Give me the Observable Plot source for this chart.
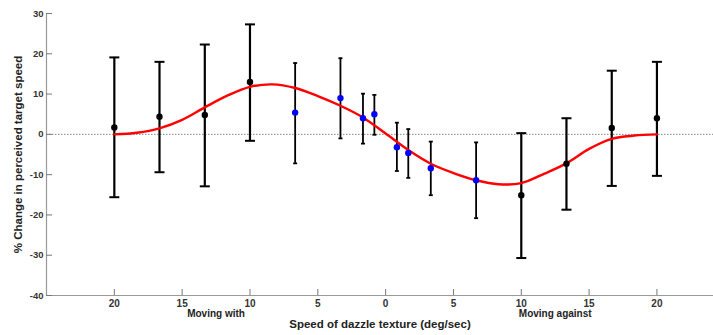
<!DOCTYPE html>
<html>
<head>
<meta charset="utf-8">
<script src="https://cdn.jsdelivr.net/npm/d3@7"></script>
<script src="https://cdn.jsdelivr.net/npm/@observablehq/plot@0.6"></script>
<style>
  html, body { margin: 0; padding: 0; background: #fff; }
  #chart svg { display: block; }
</style>
</head>
<body>
<div id="chart"></div>
<script>
// Speed of dazzle texture (deg/sec); negative = moving with, positive = moving against
const speeds = [-20, -16.67, -13.33, -10, -6.67, -3.33, -1.67, -0.83, 0.83, 1.67, 3.33, 6.67, 10, 13.33, 16.67, 20];
const means  = [1.7, 4.4, 4.8, 13.0, 5.4, 9.0, 4.0, 5.0, -3.2, -4.6, -8.4, -11.4, -15.1, -7.3, 1.6, 4.0];
const upper  = [19.1, 18.0, 22.3, 27.3, 17.7, 18.9, 10.1, 9.8, 2.9, 1.3, -1.8, -2.0, 0.3, 4.0, 15.8, 18.0];
const lower  = [-15.6, -9.4, -12.9, -1.6, -7.2, -1.0, -2.3, -0.1, -9.1, -10.8, -15.1, -20.8, -30.7, -18.7, -12.8, -10.3];
const groups = ["wide", "wide", "wide", "wide", "near", "near", "near", "near", "near", "near", "near", "near", "wide", "wide", "wide", "wide"];

// Fitted curve
const curveX = [-20, -18.33, -16.67, -15, -13.33, -11.67, -10, -8.33, -6.67, -5, -3.33, -1.67, 0, 1.67, 3.33, 5, 6.67, 8.33, 10, 11.67, 13.33, 15, 16.67, 18.33, 20];
const curveY = [0, 0.4, 1.5, 3.6, 6.7, 9.6, 11.8, 12.4, 11.5, 9.5, 7.1, 4.2, 0.2, -3.9, -7.3, -9.6, -11.4, -12.4, -12.1, -9.8, -7.2, -3.6, -1.1, -0.3, 0];

const xTicks = [-20, -15, -10, -5, 0, 5, 10, 15, 20];
const yTicks = [-40, -30, -20, -10, 0, 10, 20, 30];
const sideLabels = ["Moving with", "Moving against"];
const xTitle = "Speed of dazzle texture (deg/sec)";
const yTitle = "% Change in perceived target speed";

const points = speeds.map((x, i) => ({x, y: means[i], hi: upper[i], lo: lower[i], group: groups[i]}));
const curve = curveX.map((x, i) => ({x, y: curveY[i]}));
const sideX = [d3.mean(xTicks.filter(t => t < 0)), d3.mean(xTicks.filter(t => t > 0))];
const sides = sideLabels.map((t, i) => ({t, x: sideX[i]}));

const cap = {draw(ctx, size) { const r = Math.sqrt(size / Math.PI); ctx.moveTo(-r, 0); ctx.lineTo(r, 0); }};
const font = "'Liberation Sans', Arial, Helvetica, sans-serif";

const wide = points.filter(d => d.group === "wide");
const near = points.filter(d => d.group === "near");

const chart = Plot.plot({
  width: 713,
  height: 335,
  marginLeft: 46,
  marginRight: 0,
  marginTop: 13,
  marginBottom: 40,
  style: {fontFamily: font, background: "#fff"},
  x: {domain: [-25, 24.17], label: null},
  y: {domain: [-40, 30], label: null},
  marks: [
    // zero reference line
    Plot.ruleY([0], {stroke: "#888", strokeWidth: 1, strokeDasharray: "1.5,1.5"}),
    // axis lines
    Plot.ruleY([d3.min(yTicks)], {stroke: "#999", strokeWidth: 1.2}),
    Plot.ruleX([-25], {stroke: "#999", strokeWidth: 1.2}),
    // axis ticks (inward) and labels
    Plot.axisY({ticks: yTicks, tickSize: -6, stroke: "#777", tickFormat: () => "", label: null}),
    Plot.axisY({ticks: yTicks, tickSize: 0, tickPadding: 3, tickFormat: d => String(d), fontSize: 9.5, fontWeight: "bold", fill: "#333", label: null}),
    Plot.axisX({ticks: xTicks, tickSize: -6, stroke: "#777", tickFormat: () => "", label: null}),
    Plot.axisX({ticks: xTicks, tickSize: 0, tickPadding: 4, tickFormat: d => String(Math.abs(d)), fontSize: 10, fontWeight: "bold", fill: "#333", label: null}),
    // error bars
    Plot.ruleX(wide, {x: "x", y1: "lo", y2: "hi", stroke: "#000", strokeWidth: 2.2}),
    Plot.ruleX(near, {x: "x", y1: "lo", y2: "hi", stroke: "#000", strokeWidth: 1.8}),
    Plot.dot(wide, {x: "x", y: "hi", symbol: cap, r: 5, stroke: "#000", strokeWidth: 2, fill: "none"}),
    Plot.dot(wide, {x: "x", y: "lo", symbol: cap, r: 5, stroke: "#000", strokeWidth: 2, fill: "none"}),
    Plot.dot(near, {x: "x", y: "hi", symbol: cap, r: 2, stroke: "#000", strokeWidth: 1.8, fill: "none"}),
    Plot.dot(near, {x: "x", y: "lo", symbol: cap, r: 2, stroke: "#000", strokeWidth: 1.8, fill: "none"}),
    // fitted curve
    Plot.line(curve, {x: "x", y: "y", stroke: "#ff0000", strokeWidth: 2.4, curve: "catmull-rom"}),
    // points
    Plot.dot(wide, {x: "x", y: "y", r: 3.2, fill: "#000", stroke: "none"}),
    Plot.dot(near, {x: "x", y: "y", r: 3.2, fill: "#0000ff", stroke: "none"}),
    // side labels and titles
    Plot.text(sides, {x: "x", text: "t", frameAnchor: "bottom", dy: 21.5, fontSize: 10, fontWeight: "bold", fill: "#222"}),
    Plot.text([xTitle], {frameAnchor: "bottom", dy: 32, fontSize: 11.5, fontWeight: "bold", fill: "#222", textAnchor: "middle"}),
    Plot.text([yTitle], {frameAnchor: "left", dx: -28, rotate: -90, textAnchor: "middle", fontSize: 11.5, fontWeight: "bold", fill: "#222"})
  ]
});
document.getElementById("chart").appendChild(chart);
</script>
</body>
</html>
